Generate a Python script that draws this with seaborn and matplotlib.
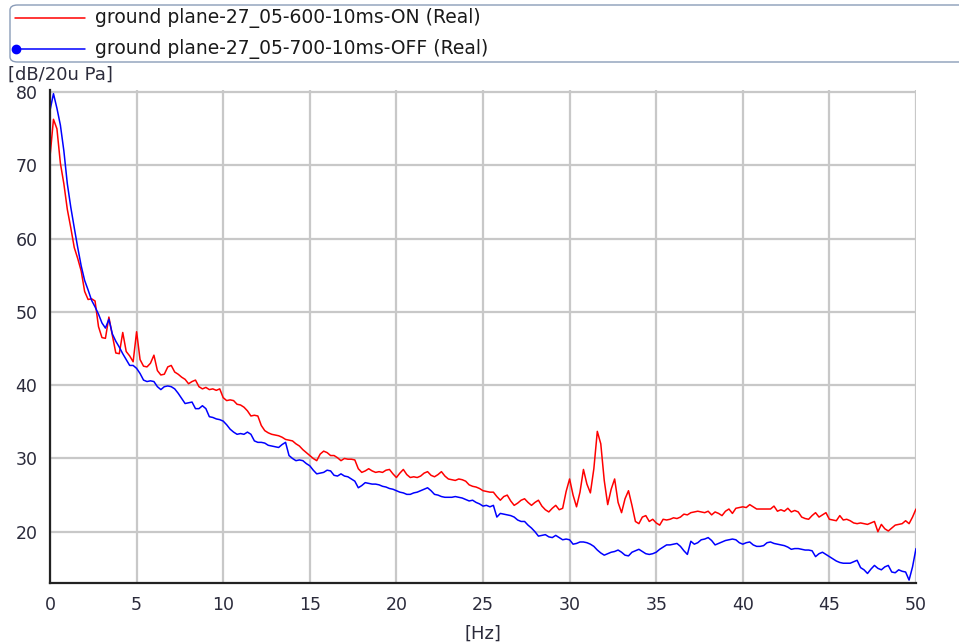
import numpy as np
import pandas as pd
import matplotlib
matplotlib.use("Agg")
import matplotlib.pyplot as plt
from matplotlib.lines import Line2D
from matplotlib.patches import FancyBboxPatch
import seaborn as sns

sns.set_style("white")
plt.rcParams['font.family'] = ['DejaVu Sans']

# spectrum bins, 0.2 Hz apart (0 .. 50 Hz)
freq = np.linspace(0, 50, 251)

# sound level [dB/20u Pa]
spl_on = [
    71.2, 76.3, 75.0, 70.3, 67.5, 64.0, 61.5, 58.8, 57.3, 55.6,
    52.8, 51.7, 51.8, 51.5, 48.0, 46.5, 46.4, 49.3, 46.8, 44.4,
    44.3, 47.2, 44.6, 44.0, 43.2, 47.3, 43.5, 42.6, 42.5, 43.0,
    44.1, 42.0, 41.4, 41.5, 42.5, 42.7, 41.8, 41.5, 41.1, 40.8,
    40.2, 40.5, 40.7, 39.8, 39.5, 39.7, 39.4, 39.5, 39.3, 39.5,
    38.3, 37.9, 38.0, 37.9, 37.4, 37.3, 37.0, 36.5, 35.8, 35.9,
    35.8, 34.5, 33.8, 33.5, 33.3, 33.2, 33.1, 32.9, 32.6, 32.5,
    32.4, 32.0, 31.7, 31.2, 30.8, 30.4, 30.0, 29.7, 30.6, 31.0,
    30.8, 30.4, 30.4, 30.1, 29.7, 30.0, 29.9, 29.9, 29.8, 28.6,
    28.1, 28.3, 28.6, 28.3, 28.1, 28.2, 28.1, 28.4, 28.5, 27.9,
    27.4, 28.0, 28.5, 27.8, 27.4, 27.5, 27.4, 27.6, 28.0, 28.2,
    27.7, 27.5, 27.8, 28.2, 27.6, 27.2, 27.1, 27.0, 27.2, 27.1,
    26.9, 26.4, 26.2, 26.1, 25.9, 25.6, 25.5, 25.4, 25.4, 24.8,
    24.3, 24.8, 25.0, 24.2, 23.6, 23.9, 24.3, 24.5, 24.0, 23.6,
    24.0, 24.3, 23.5, 23.0, 22.7, 23.2, 23.6, 23.0, 23.2, 25.5,
    27.2, 25.0, 23.4, 25.4, 28.5, 26.5, 25.3, 28.6, 33.7, 32.0,
    27.0, 23.7, 25.8, 27.2, 24.0, 22.6, 24.5, 25.6, 23.6, 21.4,
    21.1, 22.0, 22.2, 21.4, 21.7, 21.2, 20.9, 21.7, 21.6, 21.7,
    21.9, 21.8, 22.0, 22.4, 22.3, 22.6, 22.7, 22.8, 22.7, 22.6,
    22.8, 22.3, 22.7, 22.5, 22.2, 22.8, 23.1, 22.5, 23.2, 23.3,
    23.4, 23.3, 23.7, 23.4, 23.1, 23.1, 23.1, 23.1, 23.1, 23.5,
    22.8, 23.0, 22.8, 23.2, 22.7, 22.9, 22.7, 22.0, 21.8, 21.7,
    22.2, 22.6, 22.0, 22.3, 22.6, 21.7, 21.6, 21.5, 22.2, 21.6,
    21.7, 21.5, 21.2, 21.1, 21.2, 21.1, 21.0, 21.2, 21.4, 20.0,
    21.0, 20.4, 20.1, 20.5, 20.9, 21.0, 21.1, 21.5, 21.1, 22.0,
    23.1,
]
spl_off = [
    77.5, 79.8, 77.8, 75.5, 72.0, 67.5, 64.3, 61.5, 58.8, 56.3,
    54.3, 53.0, 51.6, 50.7, 49.7, 48.5, 47.8, 49.0, 47.0, 46.0,
    45.2, 44.3, 43.5, 42.7, 42.7, 42.3, 41.6, 40.7, 40.5, 40.6,
    40.5, 39.8, 39.4, 39.8, 39.9, 39.8, 39.5, 38.9, 38.2, 37.5,
    37.6, 37.7, 36.8, 36.8, 37.2, 36.8, 35.7, 35.6, 35.4, 35.3,
    35.1, 34.6, 34.0, 33.6, 33.3, 33.4, 33.3, 33.6, 33.3, 32.4,
    32.2, 32.2, 32.1, 31.8, 31.7, 31.6, 31.5, 31.9, 32.2, 30.4,
    30.0, 29.7, 29.8, 29.7, 29.3, 29.0, 28.4, 27.9, 28.0, 28.1,
    28.4, 28.3, 27.7, 27.6, 27.9, 27.6, 27.5, 27.2, 26.9, 26.0,
    26.3, 26.7, 26.6, 26.5, 26.5, 26.4, 26.2, 26.1, 25.9, 25.8,
    25.6, 25.4, 25.3, 25.1, 25.1, 25.3, 25.4, 25.6, 25.8, 26.0,
    25.6, 25.1, 25.0, 24.8, 24.7, 24.7, 24.7, 24.8, 24.7, 24.6,
    24.4, 24.2, 24.3, 24.0, 23.8, 23.5, 23.6, 23.4, 23.6, 22.0,
    22.5, 22.4, 22.3, 22.2, 22.0, 21.6, 21.4, 21.4, 20.9, 20.5,
    20.0, 19.4, 19.5, 19.6, 19.3, 19.2, 19.5, 19.2, 18.9, 19.0,
    18.9, 18.3, 18.4, 18.6, 18.6, 18.5, 18.3, 18.0, 17.5, 17.1,
    16.8, 17.0, 17.2, 17.3, 17.5, 17.2, 16.8, 16.7, 17.2, 17.4,
    17.6, 17.3, 17.0, 16.9, 17.0, 17.2, 17.6, 17.9, 18.2, 18.2,
    18.3, 18.4, 18.0, 17.4, 16.9, 18.7, 18.3, 18.5, 18.9, 19.0,
    19.2, 18.8, 18.2, 18.4, 18.6, 18.8, 18.9, 19.0, 18.9, 18.5,
    18.3, 18.5, 18.6, 18.2, 18.0, 18.0, 18.1, 18.5, 18.6, 18.4,
    18.3, 18.2, 18.1, 17.9, 17.6, 17.7, 17.7, 17.6, 17.5, 17.5,
    17.4, 16.6, 17.0, 17.2, 16.9, 16.6, 16.3, 16.0, 15.8, 15.7,
    15.7, 15.7, 15.9, 16.1, 15.1, 14.8, 14.3, 14.9, 15.4, 15.0,
    14.8, 15.2, 15.4, 14.5, 14.4, 14.8, 14.6, 14.5, 13.4, 15.2,
    17.7,
]

label_on = "ground plane-27_05-600-10ms-ON (Real)"
label_off = "ground plane-27_05-700-10ms-OFF (Real)"
x_ticks = [0, 5, 10, 15, 20, 25, 30, 35, 40, 45, 50]
y_ticks = [20, 30, 40, 50, 60, 70, 80]

df = pd.DataFrame({"Hz": freq, "on": spl_on, "off": spl_off})

fig = plt.figure(figsize=(9.59, 6.44), dpi=100)
ax = fig.add_axes([50 / 959, 1 - 583 / 644, 866 / 959, 493 / 644])

sns.lineplot(data=df, x="Hz", y="on", ax=ax, color="red", lw=1.1, estimator=None)
sns.lineplot(data=df, x="Hz", y="off", ax=ax, color="blue", lw=1.1, estimator=None)

ax.set_xlim(0, 50)
ax.set_ylim(13.0, 80.3)
ax.set_xticks(x_ticks)
ax.set_yticks(y_ticks)
ax.grid(True, color="#c8c8c8", lw=1.6)
ax.set_axisbelow(True)
for s in ["top", "right"]:
    ax.spines[s].set_visible(False)
for s in ["left", "bottom"]:
    ax.spines[s].set_color("#222222")
    ax.spines[s].set_linewidth(1.6)
ax.tick_params(direction="out", length=5, width=1.3, color="#222222",
               labelcolor="#2b2b3b", labelsize=12.5, pad=4)
ax.set_xlabel("[Hz]", fontsize=13, color="#2b2b3b", labelpad=8)
ax.set_ylabel("")

# axis unit on top-left
fig.text(8 / 959, 1 - 75 / 644, "[dB/20u Pa]", fontsize=13, color="#2b2b3b", va="center")

# legend panel
fig.add_artist(FancyBboxPatch((10 / 959, 1 - 62 / 644), 1.0, 57 / 644,
                              boxstyle="round,pad=0,rounding_size=0.008",
                              transform=fig.transFigure, fill=False,
                              edgecolor="#8a9cb8", lw=1.0))
for yy, col, txt, mk in [(18, "red", label_on, False), (49, "blue", label_off, True)]:
    yf = 1 - yy / 644
    fig.add_artist(Line2D([15 / 959, 85 / 959], [yf, yf], color=col, lw=1.1,
                          transform=fig.transFigure))
    if mk:
        fig.add_artist(Line2D([16 / 959], [yf], color=col, marker="o", ms=6,
                              transform=fig.transFigure))
    fig.text(95 / 959, yf, txt, fontsize=13.5, color="#1a1a1a", va="center")

fig.savefig("out.png", dpi=100)
